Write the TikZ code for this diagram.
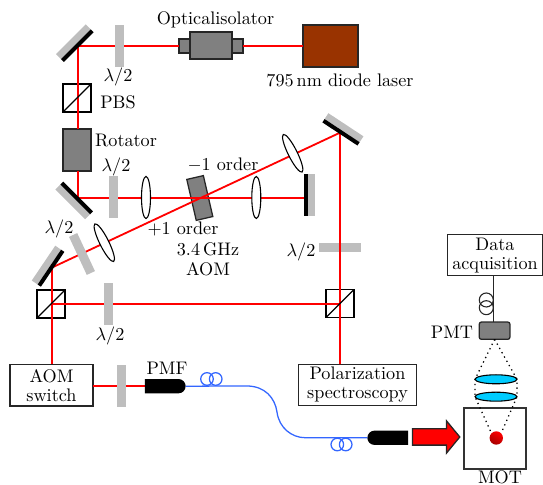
\documentclass[tikz,border=0pt]{standalone}
\usetikzlibrary{shapes.geometric,shapes.misc,shapes.arrows}
\newlength\pxu
\setlength\pxu{0.55pt}
\definecolor{beamred}{RGB}{255,0,0}
\definecolor{plategray}{RGB}{190,190,190}
\definecolor{devgray}{RGB}{128,128,128}
\definecolor{laserbrown}{RGB}{153,51,0}
\definecolor{fiberblue}{RGB}{51,102,255}
\definecolor{lenscyan}{RGB}{0,204,255}
\tikzset{
  sized/.style 2 args={minimum width=#1*\pxu,minimum height=#2*\pxu,inner sep=0pt,outer sep=0pt},
  plate/.style={sized={42}{9},fill=plategray},
  mirrorback/.style={sized={42}{7},fill=plategray},
  mirrorfront/.style={sized={42}{4},fill=black},
  lens/.style={ellipse,sized={42}{9},draw=black,line width=0.6pt,fill=white},
  pbs/.style={sized={28}{28},draw=black,line width=0.6pt},
  device/.style={draw=black!85,line width=0.7pt,fill=devgray,inner sep=0pt,outer sep=0pt},
  labelbox/.style={draw=black!85,line width=0.6pt,fill=white,align=center,inner sep=0pt,outer sep=0pt},
  beam/.style={draw=beamred,line width=1pt},
  fiber/.style={draw=fiberblue,line width=0.7pt},
  coil/.style={circle,draw=fiberblue,line width=0.7pt,minimum size=12.6*\pxu,inner sep=0pt},
  wirecoil/.style={circle,draw=black!85,line width=0.6pt,minimum size=14*\pxu,inner sep=0pt},
  plug/.style={rounded rectangle,fill=black,sized={40.7}{14.3}},
  cyanlens/.style={ellipse,sized={42}{9},draw=black,line width=0.6pt,fill=lenscyan},
  txt/.style={inner sep=0pt,align=center}
}
\begin{document}
\begin{tikzpicture}[x=\pxu,y=-\pxu]
\useasboundingbox (0,0) rectangle (543,485);
% junctions of the beams
\coordinate (j1) at (77.7,46);
\coordinate (j2) at (77.7,198);
\coordinate (j3) at (200,198);
\coordinate (j4) at (340,132.7);
\coordinate (j5) at (51.7,267.7);
\coordinate (j6) at (51.7,304);
\coordinate (j7) at (340,304);
\coordinate (endm3) at (304.5,198);
% parts under the beams
\node[device,rotate=-77,minimum width=42*\pxu,minimum height=17*\pxu] (aom) at (199.8,198) {};
\node[sized={42}{9},fill=plategray] (hp) at (340,247.5) {};
% boxes
\node[device,fill=laserbrown,sized={55}{42}] (laser) at (330.5,46) {};
\node[device,sized={42}{27}] (iso) at (211,45.5) {};
\node[device,sized={11}{14}] (isoL) at (184.5,46) {};
\node[device,sized={11}{14}] (isoR) at (237.5,46) {};
\node[device,sized={28}{42}] (rot) at (77,150) {};
\node[pbs] (pbsA) at (77,98) {};
\node[pbs] (pbsB) at (51,304) {};
\node[pbs] (pbsC) at (340,303.5) {};
\node[labelbox,sized={83}{41.7}] (sw) at (51.5,385.2) {AOM\hspace{6pt}\\[-1.5pt]switch\hspace{4pt}};
\node[labelbox,sized={118}{41.7}] (pol) at (357.5,385) {Polarization\\[-1.5pt]spectroscopy};
\node[labelbox,sized={95.4}{41.3}] (daq) at (495,255.3) {Data\hspace{10pt}\\[-1.5pt]acquisition};
% beams
\draw[beam] (isoR.east) -- (laser.west);
\draw[beam] (isoL.west) -- (j1) -- (j1 |- rot.north);
\draw[beam] (j1 |- rot.south) -- (j2) -- (j3) -- (endm3);
\draw[beam] (j5) -- (j4) -- (pol.north -| j4);
\draw[beam] (j5) -- (sw.north -| j5);
\draw[beam] (j6) -- (j7);
\draw[beam] (sw.east |- 0,386) -- (145,386);
% plates
\node[plate,rotate=90] (wp1) at (119.5,46) {};
\node[plate,rotate=90] (wp2) at (113.5,197.5) {};
\node[plate,rotate=-65] (wp3) at (82,254) {};
\node[plate,rotate=90] (wp4) at (108.5,304) {};
\node[plate,rotate=90] (wp5) at (121.5,386) {};
% mirrors
\node[mirrorback,rotate=45] (m1b) at (73.4,41.8) {};
\node[mirrorfront,rotate=45] (m1) at (77.3,45.7) {};
\node[mirrorback,rotate=-45] (m2b) at (72.8,201.9) {};
\node[mirrorfront,rotate=-45] (m2) at (76.7,198) {};
\node[mirrorback,rotate=90] (m3b) at (311.5,195.5) {};
\node[mirrorfront,rotate=90] (m3) at (306,195.5) {};
\node[mirrorback,rotate=-33.4] (m4b) at (344,127.7) {};
\node[mirrorfront,rotate=-33.4] (m4) at (341,132.3) {};
\node[mirrorback,rotate=56] (m5b) at (46.4,265.1) {};
\node[mirrorfront,rotate=56] (m5) at (51,268.2) {};
% lenses
\node[lens,rotate=90] (l1) at (146,197.5) {};
\node[lens,rotate=90] (l2) at (256.3,197.5) {};
\node[lens,rotate=-63.5] (l3) at (292.7,153.3) {};
\node[lens,rotate=-63.5] (l4) at (104.3,242.7) {};
% cube diagonals
\draw[line width=0.6pt] (pbsA.south west) -- (pbsA.north east);
\draw[line width=0.6pt] (pbsB.south west) -- (pbsB.north east);
\draw[line width=0.6pt] (pbsC.south west) -- (pbsC.north east);
% fibre
\node[plug,rounded rectangle left arc=none] (p1) at (165.3,386.2) {};
\node[plug,rounded rectangle right arc=none] (p2) at (387.7,437.8) {};
\draw[fiber] (p1.east) -- (246.7,386) .. controls (265,386) and (275,398) .. (277,412) .. controls (279,428) and (292,437.7) .. (305,437.7) -- (p2.west);
\node[coil] (c1) at (207,379) {};
\node[coil] (c2) at (215.7,379) {};
\node[coil] (c3) at (337.3,444.5) {};
\node[coil] (c4) at (345.7,444.5) {};
% MOT and detection
\node[single arrow,draw=black!85,line width=0.7pt,fill=red,inner sep=7.5*\pxu,minimum height=47.3*\pxu,single arrow head extend=8*\pxu,single arrow head indent=0pt,single arrow tip angle=101,outer sep=0pt] (arr) at (432.8,437) {};
\node[draw=black!80,line width=1.1pt,sized={61.4}{61.6}] (mot) at (495,438.5) {};
\node[circle,minimum size=13.4*\pxu,inner sep=0pt,left color=red,right color=red!65!black,shading angle=-30] (ball) at (496.3,438) {};
\node[cyanlens] (cl1) at (496,379.3) {};
\node[cyanlens] (cl2) at (496,396.7) {};
\node[device,rounded corners=1.2pt,sized={30.7}{17.3}] (pmt) at (494.6,330.7) {};
\draw[draw=black!85,line width=0.7pt] (493.7,0 |- daq.south) -- (493.7,0 |- pmt.north);
\node[wirecoil] (w1) at (486.3,300) {};
\node[wirecoil] (w2) at (486.3,307.7) {};
\draw[dotted,line width=0.7pt] (pmt.south) -- (cl1.west) -- (cl2.west) -- (ball.135);
\draw[dotted,line width=0.7pt] (pmt.south) -- (cl1.east) -- (cl2.east) -- (ball.45);
% labels
\node[txt] (t1) at (215.5,20) {Opticalisolator};
\node[txt] (t2) at (340,80) {795\,nm diode laser};
\node[txt] (t3) at (118,76.5) {$\lambda/2$};
\node[txt] (t4) at (118,102) {PBS};
\node[txt] (t5) at (126,141) {Rotator};
\node[txt] (t6) at (116,166.5) {$\lambda/2$};
\node[txt] (t7) at (223,164.5) {$-1$ order};
\node[txt] (t8) at (183,228.5) {$+1$ order};
\node[txt] (t9) at (208,249) {3.4\,GHz};
\node[txt] (t10) at (208,269) {AOM};
\node[txt] (t11) at (59,229) {$\lambda/2$};
\node[txt] (t12) at (110,336) {$\lambda/2$};
\node[txt] (t13) at (301,252) {$\lambda/2$};
\node[txt] (t14) at (167,368) {PMF};
\node[txt] (t15) at (452,332.7) {PMT};
\node[txt] (t16) at (500,477.5) {MOT};
\end{tikzpicture}
\end{document}
